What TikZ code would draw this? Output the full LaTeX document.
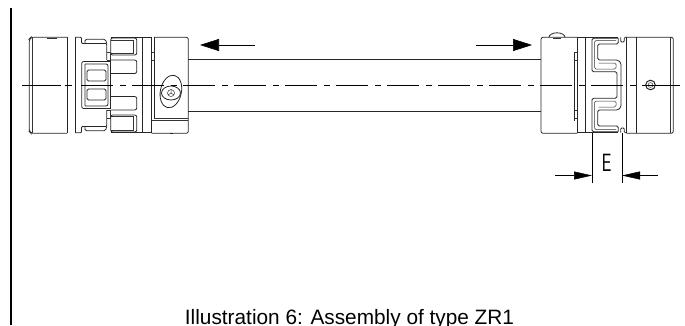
\documentclass[tikz,border=0pt]{standalone}
\usepackage{fontspec}
\setmainfont{Liberation Sans}
\usetikzlibrary{arrows.meta}
\tikzset{
    part/.style={line width=0.8pt,color=black!85},
    thinpart/.style={line width=0.5pt,color=black!80},
    axisline/.style={line width=0.6pt,color=black},
    bigarrow/.style={-{Triangle[length=19pt,width=12pt]},line width=0.6pt},
    dimarrow/.style={-{Triangle[length=18pt,width=8pt]},line width=0.5pt}
}
\begin{document}
\begin{tikzpicture}[x=1pt,y=-1pt]
    \useasboundingbox (0,0) rectangle (685,325);
    % page margin rule
    \draw[line width=2pt] (11,8) -- (11,325);

    % shaft
    \draw[part,line width=1pt] (188,59.5) -- (541,59.5);
    \draw[part,line width=1pt] (188,111) -- (541,111);

    % left coupling, outlines
    \draw[part,rounded corners=2pt] (67,37.3) -- (31,37.3) -- (29.3,39) -- (29.3,131.5) -- (31,133.3) -- (67,133.3);
    \draw[thinpart] (32.7,37.3) -- (32.7,133.3);
    \draw[part] (67,37.3) -- (67,133.3);
    \draw[part] (75.3,37.3) -- (75.3,133.3);
    \draw[part] (142.7,37.3) -- (142.7,133.3);
    \draw[part] (151.7,37.3) -- (151.7,133.3);
    \draw[part] (154.3,37.3) -- (154.3,118.3);
    \draw[part,rounded corners=2pt] (154.3,37.3) -- (188.3,37.3) -- (188.3,133.3) -- (151.7,133.3);
    \draw[thinpart] (154.3,118.3) -- (188.3,118.3);
    \draw[thinpart] (151.7,120.7) -- (188.3,120.7);
    \draw[thinpart] (151.7,52) -- (154.3,52) (151.7,60) -- (154.3,60);
    \draw[thinpart] (47,38) -- (57,38);
    \draw[part] (170,133) -- (173,133);

    % left coupling, jaws (upper half, then mirrored)
    \foreach \s in {1,-1}{
        \begin{scope}[yshift=-85pt,yscale=\s]
            \draw[part,rounded corners=1pt] (75.3,-47.7) -- (81.5,-47.7) -- (81.5,-41.5) -- (106.7,-41.5) -- (106.7,-25);
            \draw[part] (110.7,-47.7) -- (151.7,-47.7);
            \draw[part,rounded corners=1.5pt] (85,-41.5) -- (85,-45.7) -- (105.5,-45.7) -- (106.7,-41.5);
            \draw[part,rounded corners=2pt] (110.7,-47) -- (136.7,-47) -- (136.7,-30) -- (110.7,-30) -- cycle;
            \draw[thinpart] (110.7,-45) -- (133.5,-45) -- (133.5,-31.5) -- (110.7,-31.5);
            \draw[part,rounded corners=2pt] (110.7,-25) -- (136.7,-25) -- (136.7,-11.5) -- (110.7,-11.5);
            \draw[thinpart] (106.7,-33) -- (110,-33) -- (110,-25) -- (106.7,-25);
            % elastomer
            \draw[part,rounded corners=2pt] (110,-23.5) -- (81.7,-23.5) -- (81.7,0);
            \draw[part,rounded corners=2pt] (85,-21) -- (108,-21) -- (108,0) (85,-21) -- (85,0);
            \draw[part,rounded corners=1.5pt] (87,-15) -- (106,-15) -- (106,-4) -- (87,-4) -- cycle;
        \end{scope}
    }
    \draw[part] (110.7,61) -- (110.7,109);

    % left coupling, clamp screw
    \draw[part,rotate around={-12:(171,91)}] (171,91.5) ellipse (10.5pt and 16.5pt);
    \draw[part] (171,93) ellipse (9.5pt and 7pt);
    \draw[thinpart] (171,93) circle (3.5pt);
    \draw[thinpart] (171,93) -- (171,89.5) (171,93) -- (168,95) (171,93) -- (174,95);

    % right coupling, outlines
    \draw[part,rounded corners=2pt] (577.3,37.3) -- (541,37.3) -- (541,133.3) -- (577.3,133.3);
    \draw[part] (549,37.3) arc[start angle=180,end angle=0,x radius=8pt,y radius=4.5pt];
    \draw[thinpart] (553,38.5) -- (561,38.5);
    \draw[part] (574.3,52) -- (574.3,120.7);
    \draw[part] (577.3,37.3) -- (577.3,133.3);
    \draw[part] (585.7,37.3) -- (585.7,133.3);
    \draw[part] (626.7,37.3) -- (626.7,133.3);
    \draw[part] (636.7,37.3) -- (636.7,133.3);
    \draw[part,rounded corners=2pt] (626.7,37.3) -- (673.3,37.3) -- (673.3,133.3) -- (626.7,133.3);
    \draw[thinpart] (670,37.3) -- (670,133.3);

    % right coupling, jaws (upper half, then mirrored)
    \foreach \s in {1,-1}{
        \begin{scope}[yshift=-85pt,yscale=\s]
            \draw[part] (577.3,-47.7) -- (618.3,-47.7);
            \draw[part,rounded corners=1pt] (620.7,-47.7) -- (620.7,-43) -- (624.3,-43) -- (624.3,-47.7) -- (626.7,-47.7);
            % claw, outer and inner contour
            \draw[part,rounded corners=1.5pt] (618.3,-46.7) -- (592,-46.7) -- (592,-13.3) -- (617,-13.3) -- (617,0);
            \draw[part,rounded corners=1.5pt] (618.3,-46.7) -- (618.3,-41) -- (597.7,-41) -- (597.7,-25) -- (618,-25) -- (621,-22) -- (621,0);
            \draw[thinpart,rounded corners=1.5pt] (616,-44.5) -- (594.5,-44.5) -- (594.5,-16) -- (616,-16) -- (616,-22) -- (598.5,-22);
            \draw[thinpart] (574.3,-33) -- (577.3,-33) (574.3,-25) -- (577.3,-25);
        \end{scope}
    }

    % right coupling, grub screw
    \draw[part,line width=1pt] (650.5,85) circle (4.8pt);
    \draw[thinpart] (650.5,85) circle (2.4pt);

    % centre line
    \draw[axisline] (22,85) -- (61,85) (65,85) -- (72,85);
    \draw[axisline,dash pattern=on 32pt off 7pt on 6pt off 6pt] (81,85) -- (673,85);
    \draw[axisline] (645,85) -- (680,85);

    % push direction arrows
    \draw[bigarrow] (255,45) -- (200,45);
    \draw[bigarrow] (476,45) -- (532,45);

    % dimension E
    \draw[thinpart,color=black] (592,133) -- (592,183);
    \draw[thinpart,color=black] (622,133) -- (622,183);
    \draw[dimarrow] (555,175.5) -- (592,175.5);
    \draw[dimarrow] (658,175.5) -- (622,175.5);
    \node[inner sep=0pt,anchor=base,xscale=0.7] (dimE) at (606.5,171) {\fontsize{25}{25}\selectfont\sffamily E};

    % caption
    \node[inner sep=0pt,anchor=base] (caption) at (349.5,324.8) {\fontsize{20.8}{24}\selectfont Illustration 6: Assembly of type ZR1};
\end{tikzpicture}
\end{document}
